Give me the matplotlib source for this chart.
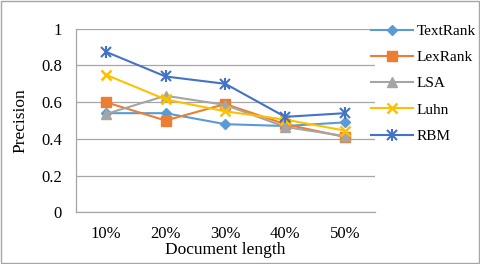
import matplotlib
matplotlib.use("Agg")
import matplotlib.pyplot as plt
from matplotlib.patches import Rectangle
from matplotlib.legend_handler import HandlerTuple

plt.rcParams['font.family'] = ['Liberation Serif', 'DejaVu Serif']

# data
lengths = ['10%', '20%', '30%', '40%', '50%']
textrank = [0.54, 0.54, 0.48, 0.47, 0.49]
lexrank = [0.60, 0.50, 0.59, 0.48, 0.41]
lsa = [0.535, 0.635, 0.585, 0.465, 0.415]
luhn = [0.75, 0.615, 0.55, 0.505, 0.445]
rbm = [0.875, 0.74, 0.70, 0.52, 0.54]

fig = plt.figure(figsize=(4.8, 2.64), dpi=100)
ax = fig.add_axes([0.158, 0.196, 0.623, 0.695])

x = list(range(len(lengths)))
h1, = ax.plot(x, textrank, '-D', color='#5B9BD5', lw=1.5, ms=5, label='TextRank')
h2, = ax.plot(x, lexrank, '-s', color='#ED7D31', lw=1.5, ms=7, label='LexRank')
h3, = ax.plot(x, lsa, '-^', color='#A5A5A5', lw=1.5, ms=7, label='LSA')
h4, = ax.plot(x, luhn, '-x', color='#FFC000', lw=1.5, ms=7, mew=1.8, label='Luhn')
h5, = ax.plot(x, rbm, '-', color='#4472C4', lw=1.5)
m5a, = ax.plot(x, rbm, 'x', color='#4472C4', ms=7, mew=1.5)
m5b, = ax.plot(x, rbm, '|', color='#4472C4', ms=8, mew=1.5)

ax.set_xlim(-0.5, 4.5)
ax.set_ylim(0, 1)
ax.set_yticks([0, 0.2, 0.4, 0.6, 0.8, 1])
ax.set_yticklabels(['0', '0.2', '0.4', '0.6', '0.8', '1'])
ax.set_xticks(x)
ax.set_xticklabels(lengths)
ax.tick_params(length=0, labelsize=12)
ax.tick_params(axis='x', pad=10)
ax.tick_params(axis='y', pad=10)
ax.grid(axis='y', color='#A6A6A6', lw=0.9)
ax.set_axisbelow(True)
for s in ['top', 'right']:
    ax.spines[s].set_visible(False)
for s in ['left', 'bottom']:
    ax.spines[s].set_color('#A6A6A6')
    ax.spines[s].set_linewidth(0.9)

ax.set_ylabel('Precision', fontsize=12.5, labelpad=9)
ax.set_xlabel('Document length', fontsize=12.5, labelpad=0)

fig.legend([h1, h2, h3, h4, (h5, m5a, m5b)],
           ['TextRank', 'LexRank', 'LSA', 'Luhn', 'RBM'],
           handler_map={tuple: HandlerTuple(ndivide=1)},
           loc='upper left', bbox_to_anchor=(0.745, 0.96),
           frameon=False, fontsize=11, handlelength=2.7, labelspacing=0.82,
           handletextpad=0.25)

fig.patches.append(Rectangle((0.002, 0.004), 0.996, 0.992, transform=fig.transFigure,
                             fill=False, edgecolor='#A6A6A6', lw=1))

fig.savefig('out.png', dpi=100)
